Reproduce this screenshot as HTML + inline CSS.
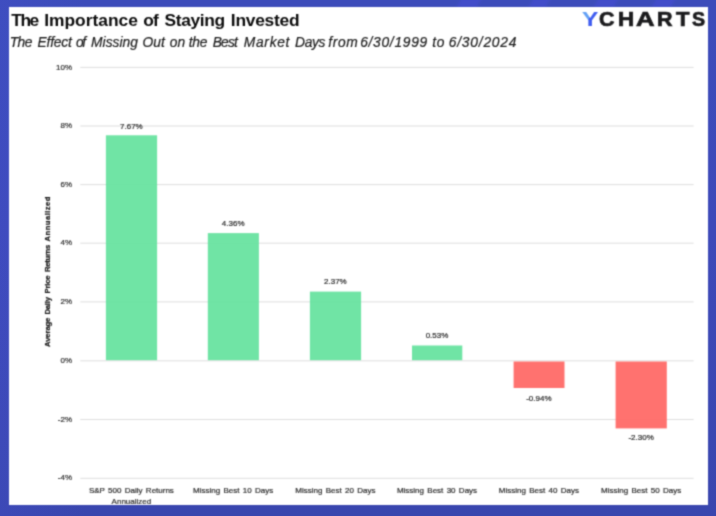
<!DOCTYPE html>
<html><head><meta charset="utf-8"><title>The Importance of Staying Invested</title>
<style>
html,body{margin:0;padding:0;}
body{width:716px;height:516px;overflow:hidden;position:relative;background:#3c48b6;font-family:"Liberation Sans",sans-serif;}
#bg{position:absolute;left:0;top:0;width:716px;height:516px;background:linear-gradient(90deg,rgba(72,84,214,0.22) 0%,rgba(72,84,214,0) 12%),linear-gradient(180deg,#3c4cba 0%,#3d49b9 45%,#3946ae 100%);}
#bg i{position:absolute;display:block;top:-2px;height:10px;background:rgba(78,78,232,0.32);transform:skewX(-28deg);filter:blur(1.5px);}
#panel{position:absolute;left:8.9px;top:7px;width:699.1px;height:498.3px;background:#fff;overflow:hidden;filter:url(#soft);}
.abs{position:absolute;white-space:nowrap;}
#title,#sub,#logo{position:absolute;left:0;top:0;width:0;height:0;}
.tw{position:absolute;white-space:nowrap;font-weight:bold;font-size:17.4px;line-height:20px;color:#0c0c0c;}
.sw{position:absolute;white-space:nowrap;font-style:italic;font-size:13.8px;line-height:18px;color:#1e1e1e;-webkit-text-stroke:0.22px #1e1e1e;}
.lg{position:absolute;white-space:nowrap;display:block;transform-origin:0 50%;font-weight:bold;font-size:20px;line-height:24px;-webkit-text-stroke:0.7px #1b1b1d;color:#1b1b1d;}
.ly{background:linear-gradient(115deg,#62a0f5 0%,#62a0f5 44%,#3f5cf0 47%,#3f5cf0 100%);-webkit-background-clip:text;background-clip:text;color:transparent;-webkit-text-stroke:0.15px transparent;}
.grid{position:absolute;left:71.3px;width:613.4px;height:1px;background:#e9e9e9;}
.yl{position:absolute;width:63.2px;left:0;text-align:right;font-size:8px;line-height:10px;color:#2e2e2e;-webkit-text-stroke:0.2px #2e2e2e;}
.bar{position:absolute;}
.g{fill:rgba(100,226,157,0.92);}
.r{fill:rgba(255,102,99,0.92);}
.dl{position:absolute;width:80px;text-align:center;font-size:8px;line-height:10px;color:#2a2a2a;-webkit-text-stroke:0.2px #2a2a2a;}
.xl{position:absolute;width:130px;text-align:center;font-size:8px;word-spacing:1.1px;line-height:11.15px;color:#2a2a2a;-webkit-text-stroke:0.2px #2a2a2a;}
#ytitle{left:31.1px;top:343px;width:0;height:0;transform-origin:0 0;transform:rotate(-90deg);}
.yw{position:absolute;white-space:nowrap;font-weight:bold;font-size:7.7px;line-height:10px;color:#1c1c1c;-webkit-text-stroke:0.25px #1c1c1c;}
</style></head><body>
<svg width="0" height="0" style="position:absolute"><filter id="soft" x="-1%" y="-1%" width="102%" height="102%" color-interpolation-filters="sRGB"><feConvolveMatrix order="3" kernelMatrix="1 3 1 3 10 3 1 3 1" divisor="26" edgeMode="none" preserveAlpha="false"/></filter></svg>
<div id="bg"><i style="left:459px;width:20px"></i><i style="left:531px;width:17px"></i><i style="left:596px;width:20px"></i><i style="left:654px;width:19px"></i></div>
<div id="panel">
<div id="title"><span class="tw" style="left:2.45px;top:2.75px;letter-spacing:-1.550px">The</span> <span class="tw" style="left:35.35px;top:2.75px;letter-spacing:-0.011px">Importance</span> <span class="tw" style="left:134.25px;top:2.75px;letter-spacing:-0.850px">of</span> <span class="tw" style="left:155.60px;top:2.75px;letter-spacing:-0.358px">Staying</span> <span class="tw" style="left:221.95px;top:2.75px;letter-spacing:-0.264px">Invested</span></div>
<div id="sub"><span class="sw" style="left:0.75px;top:27.30px;letter-spacing:-0.550px">The</span> <span class="sw" style="left:28.70px;top:27.30px;letter-spacing:-0.210px">Effect</span> <span class="sw" style="left:67.10px;top:27.30px;letter-spacing:-1.350px">of</span> <span class="sw" style="left:82.20px;top:27.30px;letter-spacing:-0.000px">Missing</span> <span class="sw" style="left:133.55px;top:27.30px;letter-spacing:0.050px">Out</span> <span class="sw" style="left:160.90px;top:27.30px;letter-spacing:0.050px">on</span> <span class="sw" style="left:179.85px;top:27.30px;letter-spacing:-0.300px">the</span> <span class="sw" style="left:203.80px;top:27.30px;letter-spacing:-0.800px">Best</span> <span class="sw" style="left:234.90px;top:27.30px;letter-spacing:0.700px">Market</span> <span class="sw" style="left:286.20px;top:27.30px;letter-spacing:-0.367px">Days</span> <span class="sw" style="left:319.40px;top:27.30px;letter-spacing:0.633px">from</span> <span class="sw" style="left:351.25px;top:27.30px;letter-spacing:0.719px">6/30/1999</span> <span class="sw" style="left:423.25px;top:27.30px;letter-spacing:0.750px">to</span> <span class="sw" style="left:439.75px;top:27.30px;letter-spacing:0.812px">6/30/2024</span></div>
<div id="logo"><span class="lg ly" style="left:572.79px;top:0.05px;transform:scaleX(1.224)">Y</span><span class="lg" style="left:590.17px;top:0.05px;transform:scaleX(1.069)">C</span><span class="lg" style="left:609.08px;top:0.05px;transform:scaleX(1.120)">H</span><span class="lg" style="left:627.40px;top:0.05px;transform:scaleX(1.284)">A</span><span class="lg" style="left:647.73px;top:0.05px;transform:scaleX(1.074)">R</span><span class="lg" style="left:667.20px;top:0.05px;transform:scaleX(1.102)">T</span><span class="lg" style="left:683.55px;top:0.05px;transform:scaleX(0.980)">S</span></div>

<svg id="shapes" width="699" height="498" viewBox="9 7 699 498" style="position:absolute;left:0.1px;top:0;overflow:visible">
<rect x="80.3" y="66.90" width="613.3" height="1" fill="#dedede"/>
<rect x="80.3" y="125.50" width="613.3" height="1" fill="#dedede"/>
<rect x="80.3" y="184.10" width="613.3" height="1" fill="#dedede"/>
<rect x="80.3" y="242.70" width="613.3" height="1" fill="#dedede"/>
<rect x="80.3" y="301.40" width="613.3" height="1" fill="#dedede"/>
<rect x="80.3" y="360.30" width="613.3" height="1" fill="#dedede"/>
<rect x="80.3" y="419.00" width="613.3" height="1" fill="#dedede"/>
<rect x="80.3" y="477.80" width="613.3" height="1" fill="#dedede"/>
<rect class="g" x="105.90" y="135.30" width="51.20" height="224.90"/>
<rect class="g" x="207.80" y="233.10" width="51.10" height="127.10"/>
<rect class="g" x="309.90" y="291.60" width="51.20" height="68.60"/>
<rect class="g" x="412.00" y="345.50" width="50.30" height="14.70"/>
<rect class="r" x="513.60" y="361.50" width="50.90" height="26.50"/>
<rect class="r" x="615.60" y="361.50" width="51.20" height="66.90"/>
</svg>
<div class="yl" style="top:55.6px">10%</div>
<div class="yl" style="top:114.2px">8%</div>
<div class="yl" style="top:172.8px">6%</div>
<div class="yl" style="top:231.3px">4%</div>
<div class="yl" style="top:290.0px">2%</div>
<div class="yl" style="top:348.9px">0%</div>
<div class="yl" style="top:407.6px">-2%</div>
<div class="yl" style="top:466.4px">-4%</div>
<div class="dl" id="d0" style="left:82.5px;top:115.0px"><span>7.67%</span></div>
<div class="xl" id="x0" style="left:57.5px;top:478.0px"><span>S&amp;P 500 Daily Returns<br>Annualized</span></div>
<div class="dl" id="d1" style="left:184.3px;top:211.8px"><span>4.36%</span></div>
<div class="xl" id="x1" style="left:159.3px;top:478.0px"><span>Missing Best 10 Days</span></div>
<div class="dl" id="d2" style="left:286.5px;top:270.3px"><span>2.37%</span></div>
<div class="xl" id="x2" style="left:261.5px;top:478.0px"><span>Missing Best 20 Days</span></div>
<div class="dl" id="d3" style="left:388.1px;top:324.1px"><span>0.53%</span></div>
<div class="xl" id="x3" style="left:363.1px;top:478.0px"><span>Missing Best 30 Days</span></div>
<div class="dl" id="d4" style="left:490.0px;top:386.5px"><span>-0.94%</span></div>
<div class="xl" id="x4" style="left:465.0px;top:478.0px"><span>Missing Best 40 Days</span></div>
<div class="dl" id="d5" style="left:592.2px;top:426.3px"><span>-2.30%</span></div>
<div class="xl" id="x5" style="left:567.2px;top:478.0px"><span>Missing Best 50 Days</span></div>
<div id="ytitle" class="abs"><span class="yw" style="left:3.05px;top:3.10px;letter-spacing:-0.117px">Average</span> <span class="yw" style="left:35.40px;top:3.10px;letter-spacing:-0.188px">Daily</span> <span class="yw" style="left:56.50px;top:3.10px;letter-spacing:-0.175px">Price</span> <span class="yw" style="left:78.00px;top:3.10px;letter-spacing:-0.292px">Returns</span> <span class="yw" style="left:108.55px;top:3.10px;letter-spacing:0.439px">Annualized</span></div>
</div>
</body></html>
